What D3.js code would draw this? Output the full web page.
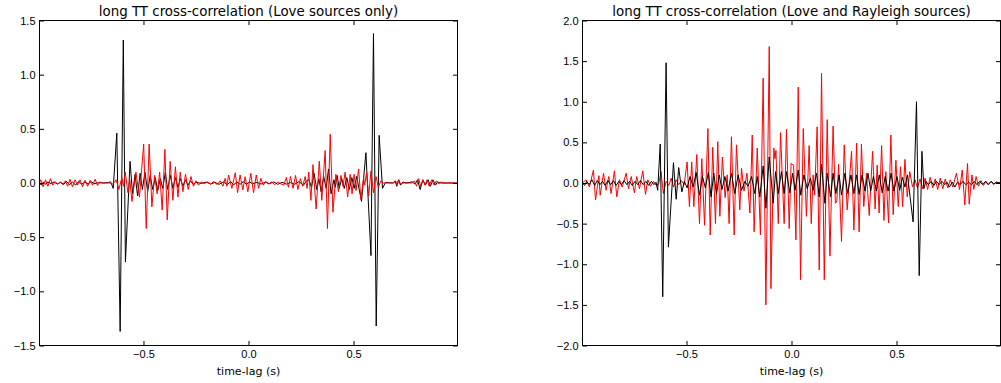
<!DOCTYPE html>
<html>
<head>
<meta charset="utf-8">
<script src="https://cdn.jsdelivr.net/npm/d3@7"></script>
<style>
  html, body { margin: 0; padding: 0; background: #fff; }
  svg { display: block; font-family: "DejaVu Sans", sans-serif; }
</style>
</head>
<body>
<div id="chart"></div>
<script>
// panel titles and axis text
const titles = [
  "long TT cross-correlation (Love sources only)",
  "long TT cross-correlation (Love and Rayleigh sources)"
];
const xLabel = "time-lag (s)";
const xTicks = [-0.5, 0.0, 0.5];
const leftYTicks = [-1.5, -1.0, -0.5, 0.0, 0.5, 1.0, 1.5];
const rightYTicks = [-2.0, -1.5, -1.0, -0.5, 0.0, 0.5, 1.0, 1.5, 2.0];
const lagRange = [-0.995, 0.995];

// [time-lag, amplitude] turning points
const loveBlack = [
  [-0.995,0],[-0.986,-0.02],[-0.976,0.01],[-0.966,-0.012],[-0.955,0.008],[-0.94,-0.005],[-0.925,0.01],
  [-0.91,-0.01],[-0.895,0.006],[-0.88,-0.012],[-0.866,0.014],[-0.852,-0.016],[-0.838,0.01],[-0.823,-0.02],
  [-0.808,0.015],[-0.794,-0.012],[-0.779,0.01],[-0.764,-0.01],[-0.75,0.012],[-0.735,-0.006],[-0.715,0.002],
  [-0.69,0],[-0.668,0.005],[-0.656,0.01],[-0.644,-0.05],[-0.627,0.46],[-0.611,-1.37],[-0.596,1.32],
  [-0.586,-0.73],[-0.564,0.2],[-0.552,-0.1],[-0.54,0.08],[-0.528,-0.12],[-0.516,0.09],[-0.505,-0.06],
  [-0.493,0.1],[-0.48,-0.08],[-0.468,0.07],[-0.456,-0.06],[-0.444,0.05],[-0.432,-0.07],[-0.42,0.04],
  [-0.408,-0.05],[-0.396,0.1],[-0.385,-0.06],[-0.372,0.07],[-0.36,-0.05],[-0.348,0.05],[-0.336,-0.04],
  [-0.324,0.04],[-0.312,-0.03],[-0.3,0.03],[-0.288,-0.02],[-0.276,0.02],[-0.264,-0.012],[-0.25,0.006],
  [-0.225,-0.004],[-0.2,0.008],[-0.18,-0.01],[-0.16,0.006],[-0.14,-0.012],[-0.12,0.01],[-0.1,-0.014],
  [-0.085,0.012],[-0.07,-0.016],[-0.055,0.01],[-0.04,-0.012],[-0.025,0.012],[-0.01,-0.01],[0.005,0.008],
  [0.02,-0.006],[0.04,0.006],[0.06,-0.01],[0.08,0.008],[0.1,-0.006],[0.12,0.01],[0.14,-0.012],[0.16,0.006],
  [0.18,-0.01],[0.2,0.004],[0.22,-0.012],[0.24,0.012],[0.262,-0.02],[0.276,0.02],[0.288,0.03],[0.3,-0.04],
  [0.312,0.09],[0.325,-0.06],[0.335,0.04],[0.346,-0.08],[0.358,0.06],[0.37,-0.05],[0.381,0.13],[0.393,-0.1],
  [0.407,0.03],[0.413,-0.04],[0.422,0.07],[0.432,-0.05],[0.444,0.04],[0.456,-0.05],[0.468,0.05],[0.48,-0.06],
  [0.492,0.05],[0.503,-0.05],[0.515,0.06],[0.538,-0.17],[0.559,0.28],[0.583,-0.67],[0.595,1.38],[0.608,-1.32],
  [0.622,0.44],[0.638,-0.05],[0.652,0.005],[0.69,0],[0.698,0.02],[0.706,-0.03],[0.714,0.03],[0.724,-0.02],
  [0.735,0.01],[0.75,0],[0.78,0.01],[0.793,-0.01],[0.805,0.03],[0.817,-0.06],[0.83,0.03],[0.842,-0.02],
  [0.855,0.03],[0.866,-0.03],[0.878,0.03],[0.89,-0.02],[0.9,0.01],[0.915,0],[0.995,0]
];

const loveRed = [
  [-0.995,0],[-0.989,0.03],[-0.978,-0.035],[-0.966,0.03],[-0.955,-0.03],[-0.943,0.04],[-0.932,-0.02],
  [-0.92,0.01],[-0.908,-0.01],[-0.896,0.01],[-0.884,-0.015],[-0.872,0.02],[-0.861,-0.03],[-0.85,0.035],
  [-0.838,-0.035],[-0.826,0.03],[-0.814,-0.02],[-0.802,0.03],[-0.79,-0.035],[-0.778,0.025],[-0.766,-0.03],
  [-0.754,0.025],[-0.742,-0.02],[-0.73,0.035],[-0.719,-0.025],[-0.708,0.01],[-0.695,0],[-0.66,0],
  [-0.645,-0.01],[-0.63,0.03],[-0.617,-0.06],[-0.603,0.05],[-0.595,-0.03],[-0.587,0.1],[-0.574,-0.09],
  [-0.565,0.03],[-0.555,-0.17],[-0.536,0.1],[-0.519,-0.13],[-0.499,0.36],[-0.487,-0.42],[-0.473,0.36],
  [-0.46,-0.22],[-0.447,0.07],[-0.435,-0.1],[-0.423,0.1],[-0.411,-0.25],[-0.398,0.31],[-0.387,-0.34],
  [-0.373,0.2],[-0.36,-0.16],[-0.348,0.15],[-0.336,-0.13],[-0.325,0.1],[-0.312,-0.08],[-0.3,0.08],
  [-0.287,-0.06],[-0.274,0.06],[-0.262,-0.03],[-0.25,0.02],[-0.238,-0.02],[-0.225,0.01],[-0.21,-0.005],
  [-0.195,0.01],[-0.18,-0.01],[-0.165,0.015],[-0.15,-0.015],[-0.135,0.02],[-0.122,-0.03],[-0.111,0.043],
  [-0.103,-0.03],[-0.095,0.074],[-0.079,-0.049],[-0.063,0.095],[-0.052,-0.089],[-0.04,0.074],[-0.027,-0.065],
  [-0.016,0.058],[-0.003,-0.08],[0.011,0.09],[0.024,-0.089],[0.037,0.074],[0.048,-0.049],[0.059,0.043],
  [0.07,-0.02],[0.082,0.015],[0.095,-0.01],[0.11,0.01],[0.125,-0.015],[0.14,0.01],[0.155,-0.01],
  [0.168,-0.02],[0.18,0.05],[0.19,-0.04],[0.2,0.06],[0.212,-0.05],[0.224,0.07],[0.235,-0.06],[0.247,0.04],
  [0.258,-0.03],[0.27,0.06],[0.279,-0.05],[0.287,0.1],[0.297,-0.16],[0.307,0.17],[0.322,-0.24],[0.337,0.2],
  [0.349,-0.16],[0.365,0.3],[0.376,-0.42],[0.389,0.45],[0.402,-0.27],[0.416,0.08],[0.428,-0.08],[0.44,0.07],
  [0.45,-0.03],[0.46,0.1],[0.472,-0.13],[0.484,0.08],[0.493,-0.1],[0.503,0.08],[0.512,-0.07],[0.524,0.13],
  [0.535,-0.15],[0.548,0.05],[0.553,-0.02],[0.562,0.1],[0.572,-0.12],[0.583,0.11],[0.595,-0.09],[0.607,0.06],
  [0.618,-0.04],[0.63,0.02],[0.642,0],[0.69,0],[0.7,0.02],[0.708,-0.02],[0.716,0.03],[0.724,-0.01],
  [0.735,0],[0.78,0],[0.79,0.02],[0.8,-0.03],[0.81,0.04],[0.82,-0.03],[0.83,0.03],[0.84,-0.02],[0.85,0.03],
  [0.86,-0.03],[0.872,0.03],[0.884,-0.02],[0.895,0.02],[0.905,-0.01],[0.915,0.01],[0.93,0],[0.995,0]
];

const loveRayBlack = [
  [-0.995,0],[-0.985,-0.03],[-0.975,0.02],[-0.963,-0.02],[-0.95,0.04],[-0.937,-0.03],[-0.925,0.03],
  [-0.912,-0.02],[-0.9,0.02],[-0.887,-0.03],[-0.874,0.03],[-0.861,-0.02],[-0.848,0.03],[-0.835,-0.03],
  [-0.822,0.02],[-0.81,-0.02],[-0.797,0.03],[-0.784,-0.02],[-0.771,0.02],[-0.758,-0.03],[-0.745,0.02],
  [-0.732,-0.02],[-0.719,0.03],[-0.706,-0.02],[-0.693,0.02],[-0.68,-0.03],[-0.667,0.02],[-0.655,-0.02],
  [-0.645,0.01],[-0.637,-0.09],[-0.625,0.48],[-0.613,-1.4],[-0.597,1.48],[-0.586,-0.79],[-0.562,0.25],
  [-0.549,-0.2],[-0.537,0.19],[-0.522,-0.11],[-0.51,0.02],[-0.497,-0.06],[-0.483,0.08],[-0.468,-0.05],
  [-0.454,0.13],[-0.438,-0.15],[-0.424,0.08],[-0.41,-0.06],[-0.396,0.13],[-0.383,-0.17],[-0.37,0.12],
  [-0.357,-0.14],[-0.344,0.1],[-0.331,-0.08],[-0.317,0.08],[-0.302,-0.1],[-0.286,0.12],[-0.27,-0.13],
  [-0.254,0.1],[-0.238,-0.09],[-0.222,0.02],[-0.207,-0.04],[-0.19,0.08],[-0.175,-0.13],[-0.163,0.08],
  [-0.151,-0.17],[-0.135,0.21],[-0.122,-0.31],[-0.106,0.32],[-0.087,-0.25],[-0.076,0.14],[-0.063,-0.13],
  [-0.048,0.14],[-0.035,-0.13],[-0.024,0.14],[-0.008,-0.12],[0.005,0.12],[0.017,-0.09],[0.032,0.16],
  [0.044,-0.15],[0.059,0.1],[0.075,-0.07],[0.09,0.06],[0.103,-0.09],[0.119,0.12],[0.132,-0.17],[0.143,0.23],
  [0.159,-0.25],[0.17,0.12],[0.186,-0.17],[0.198,0.12],[0.211,-0.13],[0.227,0.1],[0.238,-0.15],[0.254,0.12],
  [0.267,-0.13],[0.283,0.1],[0.297,-0.13],[0.31,0.1],[0.322,-0.14],[0.336,0.1],[0.35,-0.1],[0.364,0.12],
  [0.377,-0.1],[0.39,0.08],[0.404,-0.1],[0.418,0.1],[0.432,-0.12],[0.446,0.08],[0.46,-0.1],[0.474,0.12],
  [0.488,-0.1],[0.502,0.08],[0.515,-0.09],[0.528,0.07],[0.54,-0.05],[0.552,0.1],[0.579,-0.48],[0.595,1.0],
  [0.608,-1.14],[0.621,0.39],[0.63,-0.07],[0.64,0.02],[0.652,-0.02],[0.665,0.02],[0.678,-0.03],[0.69,0.02],
  [0.703,-0.02],[0.716,0.02],[0.73,-0.02],[0.74,0.01],[0.752,-0.05],[0.765,0.01],[0.778,-0.05],[0.79,0.01],
  [0.803,-0.02],[0.816,0.02],[0.83,-0.02],[0.843,0.01],[0.856,-0.02],[0.87,0.02],[0.883,-0.02],[0.896,0.02],
  [0.91,-0.02],[0.923,0.02],[0.936,-0.02],[0.95,0.02],[0.963,-0.01],[0.976,0.01],[0.995,0]
];

const loveRayRed = [
  [-0.995,0],[-0.978,0.04],[-0.962,-0.05],[-0.943,0.16],[-0.933,-0.21],[-0.917,0.09],[-0.911,-0.15],
  [-0.895,0.12],[-0.883,-0.09],[-0.87,0.08],[-0.859,-0.13],[-0.843,0.15],[-0.832,-0.17],[-0.819,0.04],
  [-0.806,-0.05],[-0.787,0.12],[-0.776,-0.07],[-0.763,0.08],[-0.748,-0.12],[-0.737,0.08],[-0.724,-0.07],
  [-0.708,0.15],[-0.695,-0.14],[-0.684,0.04],[-0.671,-0.04],[-0.657,0.02],[-0.644,-0.03],[-0.632,-0.01],
  [-0.621,0.14],[-0.61,-0.13],[-0.597,0.02],[-0.584,-0.03],[-0.573,0.06],[-0.562,-0.05],[-0.549,0.04],
  [-0.537,-0.02],[-0.524,0.03],[-0.511,-0.02],[-0.497,0.26],[-0.486,-0.29],[-0.475,0.26],[-0.465,-0.29],
  [-0.451,0.35],[-0.438,-0.5],[-0.427,0.3],[-0.414,-0.52],[-0.398,0.67],[-0.387,-0.64],[-0.375,0.44],
  [-0.362,-0.5],[-0.351,0.51],[-0.341,-0.41],[-0.329,0.32],[-0.316,-0.18],[-0.306,0.1],[-0.297,-0.5],
  [-0.286,0.57],[-0.273,-0.64],[-0.262,0.47],[-0.246,-0.33],[-0.238,0.18],[-0.226,-0.1],[-0.212,0.12],
  [-0.198,-0.37],[-0.187,0.59],[-0.178,-0.6],[-0.163,0.43],[-0.148,-0.64],[-0.135,1.29],[-0.122,-1.5],
  [-0.106,1.68],[-0.098,-1.3],[-0.084,0.43],[-0.079,0.3],[-0.074,0.4],[-0.063,-0.5],[-0.052,0.62],
  [-0.035,-0.5],[-0.024,0.66],[-0.011,-0.56],[-0.002,0.24],[0.01,0.22],[0.021,-0.7],[0.032,1.18],
  [0.043,-1.19],[0.056,0.67],[0.071,-0.41],[0.084,0.46],[0.094,-0.5],[0.103,0.1],[0.11,-0.15],[0.122,0.69],
  [0.132,-1.07],[0.143,1.35],[0.156,-1.19],[0.17,0.78],[0.183,-0.9],[0.198,0.7],[0.209,-0.25],[0.216,-0.22],
  [0.224,0.23],[0.238,-0.72],[0.251,0.47],[0.265,-0.33],[0.286,0.39],[0.297,-0.58],[0.31,0.49],[0.322,-0.6],
  [0.333,0.48],[0.344,-0.29],[0.357,0.12],[0.37,-0.4],[0.386,0.39],[0.398,-0.32],[0.408,0.22],[0.417,-0.37],
  [0.429,0.46],[0.44,-0.46],[0.449,0.14],[0.462,-0.49],[0.473,0.59],[0.484,-0.39],[0.497,0.28],[0.508,-0.29],
  [0.519,0.2],[0.529,-0.29],[0.54,0.29],[0.551,-0.17],[0.563,0.14],[0.576,-0.05],[0.588,0.04],[0.6,-0.06],
  [0.612,0.05],[0.624,-0.07],[0.636,0.06],[0.648,-0.08],[0.66,0.07],[0.672,-0.06],[0.684,0.05],[0.696,-0.08],
  [0.708,0.06],[0.72,-0.07],[0.732,0.05],[0.744,-0.06],[0.756,0.04],[0.768,-0.05],[0.785,0.12],[0.8,-0.08],
  [0.813,0.16],[0.825,-0.27],[0.838,0.24],[0.846,-0.26],[0.859,0.1],[0.868,-0.08],[0.879,0.08],[0.89,-0.04],
  [0.902,0.03],[0.914,-0.03],[0.926,0.02],[0.938,-0.02],[0.95,0.02],[0.962,-0.02],[0.975,0.01],[0.995,0]
];

const width = 1001, height = 383;
const plotTop = 20.5, plotBottom = 345.5;

const panels = [
  { title: titles[0], left: 39.5, right: 457.5, yDomain: [-1.5, 1.5], yTicks: leftYTicks,
    series: [{ data: loveBlack, color: "#000000" }, { data: loveRed, color: "#ff0000" }] },
  { title: titles[1], left: 582.5, right: 1000.5, yDomain: [-2.0, 2.0], yTicks: rightYTicks,
    series: [{ data: loveRayRed, color: "#ff0000" }, { data: loveRayBlack, color: "#000000" }] }
];

const svg = d3.select("#chart").append("svg")
  .attr("width", width)
  .attr("height", height);

const fmt = d3.format(".1f");

panels.forEach((p, i) => {
  const x = d3.scaleLinear().domain(lagRange).range([p.left, p.right]);
  const y = d3.scaleLinear().domain(p.yDomain).range([plotBottom, plotTop]);

  svg.append("clipPath").attr("id", "clip" + i)
    .append("rect")
    .attr("x", p.left).attr("y", plotTop)
    .attr("width", p.right - p.left).attr("height", plotBottom - plotTop);

  // lines
  const line = d3.line().x(d => x(d[0])).y(d => y(d[1]));
  p.series.forEach(s => {
    svg.append("path")
      .datum(s.data)
      .attr("clip-path", `url(#clip${i})`)
      .attr("fill", "none")
      .attr("stroke", s.color)
      .attr("stroke-width", 1)
      .attr("stroke-linejoin", "round")
      .attr("d", line);
  });

  // axes, ticks pointing inward on all four sides
  const styleAxis = g => {
    g.select(".domain").remove();
    g.selectAll(".tick line").attr("stroke", "#000");
    g.selectAll(".tick text").attr("fill", "#000").style("font-size", "11px");
  };

  svg.append("g")
    .attr("transform", `translate(0,${plotBottom})`)
    .call(d3.axisBottom(x).tickValues(xTicks).tickSize(-4.5).tickPadding(5).tickFormat(fmt))
    .call(styleAxis);
  svg.append("g")
    .attr("transform", `translate(0,${plotTop})`)
    .call(d3.axisTop(x).tickValues(xTicks).tickSize(-4.5).tickFormat(""))
    .call(styleAxis);
  svg.append("g")
    .attr("transform", `translate(${p.left},0)`)
    .call(d3.axisLeft(y).tickValues(p.yTicks).tickSize(-4.5).tickPadding(4).tickFormat(fmt))
    .call(styleAxis);
  svg.append("g")
    .attr("transform", `translate(${p.right},0)`)
    .call(d3.axisRight(y).tickValues(p.yTicks).tickSize(-4.5).tickFormat(""))
    .call(styleAxis);

  svg.append("rect")
    .attr("x", p.left).attr("y", plotTop)
    .attr("width", p.right - p.left).attr("height", plotBottom - plotTop)
    .attr("fill", "none")
    .attr("stroke", "#000")
    .attr("stroke-width", 1);

  svg.append("text")
    .attr("x", (p.left + p.right) / 2)
    .attr("y", 16)
    .attr("text-anchor", "middle")
    .style("font-size", "13.4px")
    .text(p.title);

  svg.append("text")
    .attr("x", (p.left + p.right) / 2)
    .attr("y", 374.5)
    .attr("text-anchor", "middle")
    .style("font-size", "11px")
    .text(xLabel);
});
</script>
</body>
</html>
